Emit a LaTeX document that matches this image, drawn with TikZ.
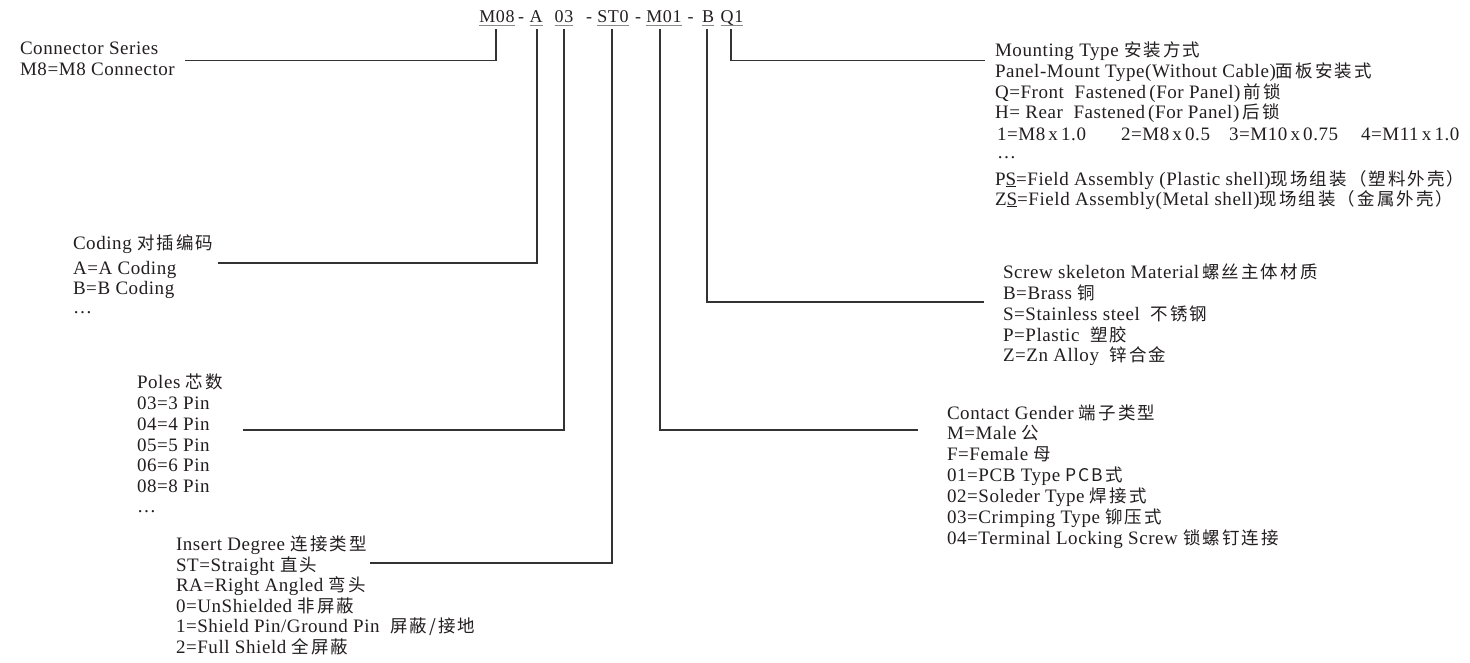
\documentclass[tikz,border=0pt]{standalone}
\usepackage{fontspec}
\setmainfont{Liberation Serif}
\newfontfamily\latf[LetterSpace=3]{Liberation Serif}
\newfontfamily\codef[LetterSpace=4]{Liberation Serif}
\newfontfamily\cjkf[Scale=0.92,LetterSpace=12]{Noto Sans CJK SC}
\newcommand\zh[1]{{\cjkf #1}}
\definecolor{ink}{HTML}{231F20}
\definecolor{wire}{HTML}{333333}
\definecolor{ulc}{HTML}{8A8A8A}
\begin{document}
\begin{tikzpicture}[x=1pt,y=-1pt,
  txt/.style={anchor=base west,inner sep=0pt,outer sep=0pt,text=ink,font=\latf\fontsize{19}{21}\selectfont},
  code/.style={anchor=base,inner sep=0pt,outer sep=0pt,text=ink,font=\codef\fontsize{18}{20}\selectfont},
  conn/.style={draw=wire,line width=1.2pt},
  ul/.style={draw=ulc,line width=1pt}]
\fill[white] (0,0) rectangle (1470,662);
\useasboundingbox (0,0) rectangle (1470,662);

% ---- code line ----
\node[code] (m08) at (497,22) {M08};
\node[code] (d1) at (521,22) {-};
\node[code] (a) at (536,22) {A};
\node[code] (p03) at (564,22) {03};
\node[code] (d2) at (589,22) {-};
\node[code] (st0) at (613,22) {ST0};
\node[code] (d3) at (638,22) {-};
\node[code] (m01) at (664,22) {M01};
\node[code] (d4) at (690.5,22) {-};
\node[code] (b) at (708,22) {B};
\node[code] (q1) at (732,22) {Q1};
\foreach \n in {m08,a,p03,st0,m01,b,q1}
  \draw[ul] ([yshift=-3pt]\n.base west) -- ([yshift=-3pt]\n.base east);

% ---- Connector series ----
\node[txt] (s1) at (20,54) {Connector Series};
\node[txt] (s2) at (20,75) {M8=M8 Connector};

% ---- Mounting type ----
\node[txt] (mt1) at (995,56) {Mounting Type \zh{安装方式}};
\node[txt] (mt2) at (995,77) {Panel-Mount Type(Without Cable)\zh{面板安装式}};
\node[txt] (mt3) at (995,98) {Q=Front\ \ Fastened\,(For Panel)\,\zh{前锁}};
\node[txt] (mt4) at (995,118) {H= Rear\ \ Fastened\,(For Panel)\,\zh{后锁}};
\node[txt] (mt5a) at (997,140) {1=M8\,x\,1.0};
\node[txt] (mt5b) at (1121,140) {2=M8\,x\,0.5};
\node[txt] (mt5c) at (1229,140) {3=M10\,x\,0.75};
\node[txt] (mt5d) at (1361,140) {4=M11\,x\,1.0};
\node[txt] (mt6) at (997,158) {…};
\node[txt] (mt7) at (995,185) {P\underline{S}=Field Assembly (Plastic shell)\zh{现场组装（塑料外壳）}};
\node[txt] (mt8) at (995,205) {Z\underline{S}=Field Assembly(Metal shell)\zh{现场组装（金属外壳）}};

% ---- Coding ----
\node[txt] (cd1) at (73,249) {Coding \zh{对插编码}};
\node[txt] (cd2) at (73,274) {A=A Coding};
\node[txt] (cd3) at (73,294) {B=B Coding};
\node[txt] (cd4) at (73,313) {…};

% ---- Screw skeleton ----
\node[txt] (sk1) at (1003,278) {Screw skeleton Material\,\zh{螺丝主体材质}};
\node[txt] (sk2) at (1003,299) {B=Brass \zh{铜}};
\node[txt] (sk3) at (1003,320) {S=Stainless steel\ \ \zh{不锈钢}};
\node[txt] (sk4) at (1003,341) {P=Plastic\ \ \zh{塑胶}};
\node[txt] (sk5) at (1003,361) {Z=Zn Alloy\ \ \zh{锌合金}};

% ---- Poles ----
\node[txt] (pl1) at (137,388) {Poles \zh{芯数}};
\node[txt] (pl2) at (137,409) {03=3 Pin};
\node[txt] (pl3) at (137,430) {04=4 Pin};
\node[txt] (pl4) at (137,451) {05=5 Pin};
\node[txt] (pl5) at (137,471) {06=6 Pin};
\node[txt] (pl6) at (137,492) {08=8 Pin};
\node[txt] (pl7) at (137,512) {…};

% ---- Contact gender ----
\node[txt] (cg1) at (947,419) {Contact Gender \zh{端子类型}};
\node[txt] (cg2) at (947,439) {M=Male \zh{公}};
\node[txt] (cg3) at (947,460) {F=Female \zh{母}};
\node[txt] (cg4) at (947,481) {01=PCB Type \zh{PCB式}};
\node[txt] (cg5) at (947,502) {02=Soleder Type \zh{焊接式}};
\node[txt] (cg6) at (947,523) {03=Crimping Type \zh{铆压式}};
\node[txt] (cg7) at (947,544) {04=Terminal Locking Screw \zh{锁螺钉连接}};

% ---- Insert degree ----
\node[txt] (id1) at (176,550) {Insert Degree \zh{连接类型}};
\node[txt] (id2) at (176,571) {ST=Straight \zh{直头}};
\node[txt] (id3) at (176,591) {RA=Right Angled \zh{弯头}};
\node[txt] (id4) at (176,612) {0=UnShielded \zh{非屏蔽}};
\node[txt] (id5) at (176,632) {1=Shield Pin/Ground Pin\ \ \zh{屏蔽/接地}};
\node[txt] (id6) at (176,653) {2=Full Shield \zh{全屏蔽}};

% ---- connector end points ----
\coordinate (es) at (185,60.5);
\coordinate (ea) at (218,263);
\coordinate (e03) at (243,430);
\coordinate (est) at (370,563);
\coordinate (em) at (918,430);
\coordinate (eb) at (984,302);
\coordinate (eq) at (985,60.5);

\draw[conn] ([xshift=-1pt,yshift=-7pt]m08.base) |- (es);
\draw[conn] ([xshift=1pt,yshift=-7pt]a.base) |- (ea);
\draw[conn] ([yshift=-7pt]p03.base) |- (e03);
\draw[conn] ([xshift=-1pt,yshift=-7pt]st0.base) |- (est);
\draw[conn] ([xshift=-4pt,yshift=-7pt]m01.base) |- (em);
\draw[conn] ([xshift=-1pt,yshift=-7pt]b.base) |- (eb);
\draw[conn] ([xshift=-1pt,yshift=-7pt]q1.base) |- (eq);
\end{tikzpicture}
\end{document}
